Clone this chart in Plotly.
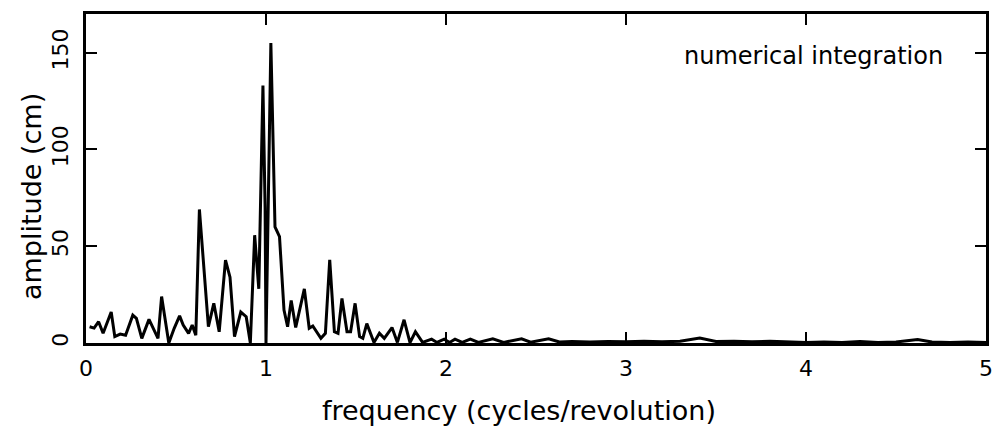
import plotly.graph_objects as go

freq = [0.02, 0.045, 0.07, 0.095, 0.14, 0.16, 0.19, 0.22, 0.26, 0.28, 0.31, 0.35, 0.40, 0.42, 0.46,
        0.49, 0.52, 0.54, 0.57, 0.59, 0.61, 0.63, 0.68, 0.71, 0.74, 0.775, 0.80, 0.825, 0.86, 0.89,
        0.913, 0.937, 0.96, 0.983, 0.995, 1.0, 1.027, 1.05, 1.075, 1.10, 1.12, 1.14, 1.165, 1.213,
        1.24, 1.26, 1.305, 1.33, 1.354, 1.38, 1.40, 1.422, 1.45, 1.47, 1.495, 1.52, 1.538, 1.56,
        1.60, 1.63, 1.657, 1.70, 1.73, 1.767, 1.80, 1.83, 1.87, 1.92, 1.95, 1.99, 2.02, 2.05, 2.09,
        2.135, 2.18, 2.26, 2.32, 2.42, 2.47, 2.57, 2.63, 2.7, 2.8, 2.9, 3.0, 3.1, 3.2, 3.3, 3.41,
        3.5, 3.6, 3.7, 3.8, 3.9, 4.0, 4.1, 4.2, 4.3, 4.4, 4.5, 4.62, 4.7, 4.8, 4.9, 5.0]
amplitude = [8.4, 7.7, 11, 5, 16, 3.3, 4.6, 4, 14.4, 12.7, 2.4, 12.2, 2.4, 24, 0,
             7.6, 14, 9.3, 5, 9.3, 4, 69, 8.4, 20.5, 5.8, 42.8, 34, 3.3, 16, 13.6,
             0, 55.7, 28, 133, 70, 0, 155, 60, 55, 17, 8.4, 22, 8, 28,
             7.6, 8.8, 2.4, 5, 43, 5.8, 5, 23, 5.8, 5.8, 20.5, 3.3, 2.4, 10,
             0.3, 5, 2.4, 8, 0.3, 12, 0.2, 5.8, 0.3, 2, 0.3, 2, 0.3, 2, 0.3,
             2, 0.3, 2.2, 0.3, 2.2, 0.4, 2.2, 0.5, 0.8, 0.5, 0.8, 0.6, 0.9, 0.6, 0.9, 2.6,
             0.8, 0.9, 0.6, 0.9, 0.6, 0.3, 0.5, 0.3, 0.8, 0.3, 0.5, 1.8, 0.5, 0.3, 0.5, 0.3]

x_ticks = [0, 1, 2, 3, 4, 5]
y_ticks = [0, 50, 100, 150]

FONT = "DejaVu Sans"

fig = go.Figure()
fig.add_trace(go.Scatter(x=freq, y=amplitude, mode="lines",
                         line=dict(color="black", width=3), showlegend=False))

axis_common = dict(showgrid=False, zeroline=False, showline=True, linecolor="black",
                   linewidth=2.5, mirror="ticks", ticks="inside", ticklen=11,
                   tickwidth=2, tickcolor="black",
                   tickfont=dict(family=FONT, size=22, color="black"))

fig.update_xaxes(range=[0, 5], tickvals=x_ticks, ticktext=[str(v) for v in x_ticks],
                 ticklabelstandoff=4, **axis_common)
fig.update_yaxes(range=[0, 170], tickvals=y_ticks, ticktext=[str(v) for v in y_ticks],
                 tickangle=-90, ticklabelstandoff=6, **axis_common)

fig.add_annotation(text="frequency (cycles/revolution)", xref="paper", yref="paper",
                   x=0.481, y=-0.206, xanchor="center", yanchor="middle", showarrow=False,
                   font=dict(family=FONT, size=27, color="black"))
fig.add_annotation(text="amplitude (cm)", xref="paper", yref="paper", textangle=-90,
                   x=-0.0606, y=0.445, xanchor="center", yanchor="middle", showarrow=False,
                   font=dict(family=FONT, size=27, color="black"))
fig.add_annotation(text="numerical integration", xref="paper", yref="paper",
                   x=0.954, y=0.873, xanchor="right", yanchor="middle", showarrow=False,
                   font=dict(family=FONT, size=24, color="black"))

fig.update_layout(width=1004, height=436, margin=dict(l=86, r=11, t=13, b=93),
                  plot_bgcolor="white", paper_bgcolor="white")

fig.write_html("out.html")
